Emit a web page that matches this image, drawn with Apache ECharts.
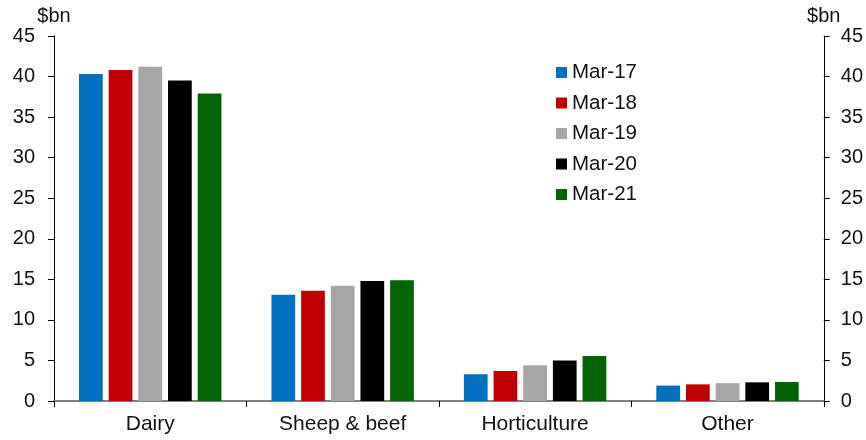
<!DOCTYPE html>
<html>
<head>
<meta charset="utf-8">
<script src="https://cdn.jsdelivr.net/npm/echarts@6/dist/echarts.min.js"></script>
<style>
  html, body { margin: 0; padding: 0; background: #fff; }
  #chart { width: 866px; height: 440px; }
</style>
</head>
<body>
<div id="chart"></div>
<script>
// Farm sector output by type, $bn
const categories = ['Dairy', 'Sheep & beef', 'Horticulture', 'Other'];
const seriesNames = ['Mar-17', 'Mar-18', 'Mar-19', 'Mar-20', 'Mar-21'];
const mar17 = [40.3, 13.1, 3.3, 1.9];
const mar18 = [40.8, 13.6, 3.7, 2.05];
const mar19 = [41.2, 14.2, 4.4, 2.2];
const mar20 = [39.5, 14.8, 5.0, 2.3];
const mar21 = [37.9, 14.9, 5.55, 2.35];
const yTicks = [0, 5, 10, 15, 20, 25, 30, 35, 40, 45];

const seriesValues = [mar17, mar18, mar19, mar20, mar21];
const colors = ['#0070C0', '#C00000', '#A6A6A6', '#000000', '#006400'];
const FONT = 'Liberation Sans, Arial, sans-serif';

function valueAxis(position) {
  return {
    type: 'value',
    position: position,
    min: yTicks[0],
    max: yTicks[yTicks.length - 1],
    interval: yTicks[1] - yTicks[0],
    name: '$bn',
    nameLocation: 'end',
    nameGap: 3,
    nameTextStyle: { fontFamily: FONT, fontSize: 20, color: '#111', align: 'center', verticalAlign: 'bottom' },
    axisLine: { show: true, lineStyle: { color: '#000', width: 1 } },
    axisTick: { show: true, inside: false, length: 6, lineStyle: { color: '#000' } },
    axisLabel: { fontFamily: FONT, fontSize: 20, color: '#111', margin: position === 'left' ? 19 : 17 },
    splitLine: { show: false }
  };
}

const chart = echarts.init(document.getElementById('chart'), null, { renderer: 'canvas' });
chart.setOption({
  animation: false,
  backgroundColor: '#fff',
  grid: { left: 54, right: 42, top: 36, bottom: 39, containLabel: false },
  legend: {
    orient: 'vertical',
    left: 551,
    top: 57,
    itemWidth: 11,
    itemHeight: 11,
    itemGap: 9.5,
    itemStyle: { borderWidth: 0 },
    textStyle: { fontFamily: FONT, fontSize: 20.5, color: '#111', lineHeight: 20 },
    data: seriesNames.map(n => ({ name: n, icon: 'rect' }))
  },
  xAxis: {
    type: 'category',
    data: categories,
    axisLine: { show: true, lineStyle: { color: '#808080', width: 2 } },
    axisTick: { show: true, alignWithLabel: false, interval: 0, length: 6, lineStyle: { color: '#000' } },
    axisLabel: { fontFamily: FONT, fontSize: 21, color: '#111', margin: 13, interval: 0 }
  },
  yAxis: [valueAxis('left'), valueAxis('right')],
  series: seriesNames.map((name, i) => ({
    name: name,
    type: 'bar',
    yAxisIndex: 0,
    data: seriesValues[i],
    barGap: '25%',
    barCategoryGap: '26%',
    itemStyle: { color: colors[i] }
  }))
});
</script>
</body>
</html>
